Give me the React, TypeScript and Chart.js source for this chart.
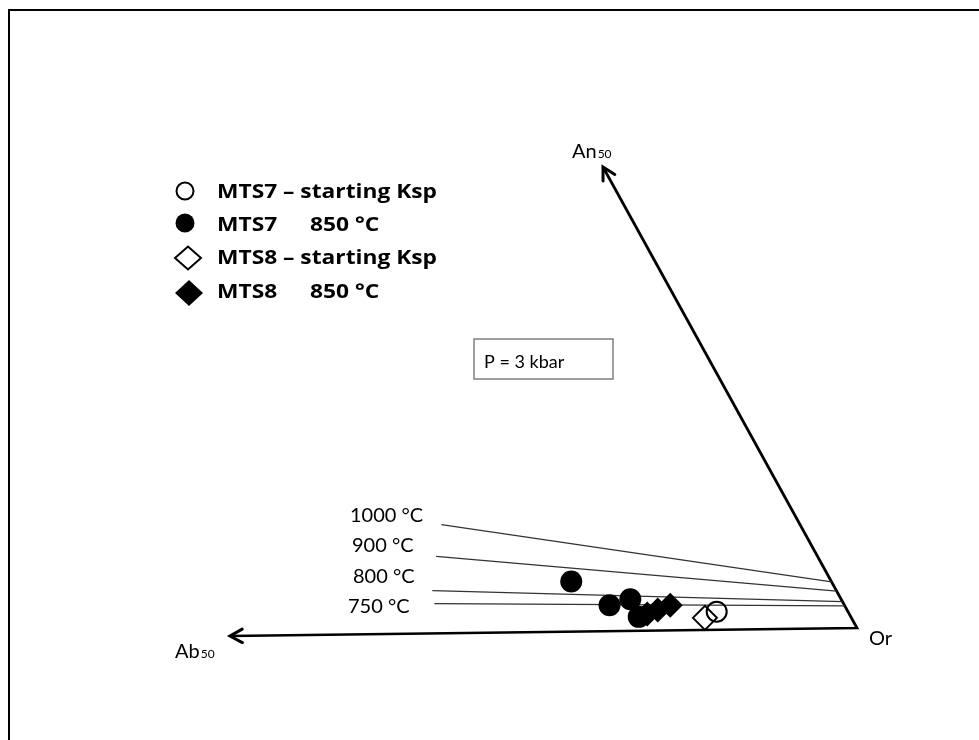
import { useEffect, useRef } from 'react';
import { Chart, registerables } from 'chart.js';

Chart.register(...registerables);

const W = 979;
const H = 740;
const FONT = 'Lato, "Open Sans", sans-serif';
const LEGEND_FONT = '"Open Sans", Lato, sans-serif';

// Compositions in mol%: Ab along the lower leg, An along the upright leg (each leg runs 0–50).
const LEG = 50;

const mts7StartAb = [10.4];
const mts7StartAn = [1.95];

const mts7RunAb = [20.6, 18.6, 16.7, 16.8];
const mts7RunAn = [5.4, 2.8, 3.4, 1.5];

const mts8StartAb = [11.6];
const mts8StartAn = [1.3];

const mts8RunAb = [16.0, 15.0, 13.8];
const mts8RunAn = [1.8, 2.2, 2.7];

// Isotherms: each runs from a point inside the field to the Or–An50 join.
const isothermLabels = ['1000 °C', '900 °C', '800 °C', '750 °C'];
const isothermAbStart = [28.4, 30.2, 32.0, 32.4];
const isothermAnStart = [11.7, 8.3, 4.6, 3.2];
const isothermAnEnd = [5.0, 4.0, 2.85, 2.4];

// Placement of the diagram corners in the plotting frame.
const OR_PT = { x: 857, y: 628 };
const AB_PT = { x: 230, y: 636 };
const AN_PT = { x: 603, y: 167 };

function project(ab: number, an: number) {
  const a = ab / LEG;
  const n = an / LEG;
  return {
    x: OR_PT.x + a * (AB_PT.x - OR_PT.x) + n * (AN_PT.x - OR_PT.x),
    y: OR_PT.y + a * (AB_PT.y - OR_PT.y) + n * (AN_PT.y - OR_PT.y),
  };
}

function zipProject(abs: number[], ans: number[]) {
  return abs.map((ab, i) => project(ab, ans[i]));
}

// Label layout (left x, baseline y) for the isotherm names.
const isothermLabelPos = [
  [350, 522],
  [352, 552],
  [353, 583],
  [348, 613],
];

const diagramDecor = {
  id: 'diagramDecor',
  afterDraw(chart: any) {
    const { ctx, scales } = chart;
    const px = (p: { x: number; y: number }) => ({
      x: scales.x.getPixelForValue(p.x),
      y: scales.y.getPixelForValue(p.y),
    });
    ctx.save();

    // outer frame
    ctx.strokeStyle = '#000';
    ctx.lineWidth = 2;
    ctx.beginPath();
    ctx.moveTo(9, H);
    ctx.lineTo(9, 10);
    ctx.lineTo(W, 10);
    ctx.stroke();

    // open arrowheads at the Ab50 and An50 ends
    const origin = px(project(0, 0));
    const tips = [px(project(LEG, 0)), px(project(0, LEG))];
    ctx.lineWidth = 3;
    ctx.lineCap = 'round';
    ctx.lineJoin = 'miter';
    for (const tip of tips) {
      const ang = Math.atan2(origin.y - tip.y, origin.x - tip.x);
      const len = 14;
      const spread = 0.5;
      ctx.beginPath();
      ctx.moveTo(tip.x + len * Math.cos(ang - spread), tip.y + len * Math.sin(ang - spread));
      ctx.lineTo(tip.x, tip.y);
      ctx.lineTo(tip.x + len * Math.cos(ang + spread), tip.y + len * Math.sin(ang + spread));
      ctx.stroke();
    }

    ctx.fillStyle = '#000';
    ctx.textBaseline = 'alphabetic';
    ctx.textAlign = 'left';

    // corner labels
    const corner = (main: string, sub: string, x: number, y: number) => {
      ctx.font = `20px ${FONT}`;
      ctx.fillText(main, x, y);
      const w = ctx.measureText(main).width;
      if (sub) {
        ctx.font = `12px ${FONT}`;
        ctx.fillText(sub, x + w + 1, y);
      }
    };
    corner('An', '50', 572, 158);
    corner('Ab', '50', 175, 658);
    corner('Or', '', 869, 645);

    // isotherm names
    ctx.font = `20px ${FONT}`;
    isothermLabels.forEach((t, i) => {
      ctx.fillText(t, isothermLabelPos[i][0], isothermLabelPos[i][1]);
    });

    // pressure box
    ctx.strokeStyle = '#7f7f7f';
    ctx.lineWidth = 1.5;
    ctx.fillStyle = '#fff';
    ctx.fillRect(474, 339, 139, 40);
    ctx.strokeRect(474, 339, 139, 40);
    ctx.fillStyle = '#000';
    ctx.font = `18px ${FONT}`;
    ctx.fillText('P = 3 kbar', 484, 368);

    // legend
    ctx.font = `bold 20px ${LEGEND_FONT}`;
    const sx = 220 / ctx.measureText('MTS7 – starting Ksp').width;
    const legendText = (t: string, x: number, y: number) => {
      ctx.save();
      ctx.translate(x, y);
      ctx.scale(sx, 1);
      ctx.fillText(t, 0, 0);
      ctx.restore();
    };
    ctx.strokeStyle = '#000';
    ctx.lineWidth = 2;
    // open circle
    ctx.beginPath();
    ctx.arc(185, 191, 8.5, 0, Math.PI * 2);
    ctx.stroke();
    legendText('MTS7 – starting Ksp', 217, 198);
    // filled circle
    ctx.beginPath();
    ctx.arc(185, 223, 9.5, 0, Math.PI * 2);
    ctx.fill();
    legendText('MTS7', 217, 231);
    legendText('850 °C', 310, 231);
    // open diamond
    ctx.beginPath();
    ctx.moveTo(175, 258);
    ctx.lineTo(188, 246.5);
    ctx.lineTo(201, 258);
    ctx.lineTo(188, 269.5);
    ctx.closePath();
    ctx.stroke();
    legendText('MTS8 – starting Ksp', 217, 264);
    // filled diamond
    ctx.beginPath();
    ctx.moveTo(175, 293);
    ctx.lineTo(189, 280);
    ctx.lineTo(203, 293);
    ctx.lineTo(189, 306);
    ctx.closePath();
    ctx.fill();
    legendText('MTS8', 217, 298);
    legendText('850 °C', 310, 298);

    ctx.restore();
  },
};

export default function App() {
  const canvasRef = useRef<HTMLCanvasElement | null>(null);

  useEffect(() => {
    const canvas = canvasRef.current;
    if (!canvas) return;

    const axisData = [project(LEG, 0), project(0, 0), project(0, LEG)];

    const isothermSets = isothermLabels.map((label, i) => ({
      label,
      data: [project(isothermAbStart[i], isothermAnStart[i]), project(0, isothermAnEnd[i])],
      showLine: true,
      borderColor: '#333333',
      borderWidth: 1.2,
      pointRadius: 0,
      order: 9,
    }));

    const chart = new Chart(canvas, {
      type: 'scatter',
      data: {
        datasets: [
          {
            label: 'axes',
            data: axisData,
            showLine: true,
            borderColor: '#000',
            borderWidth: 2.75,
            pointRadius: 0,
            order: 10,
          },
          ...isothermSets,
          {
            label: 'MTS7 850 °C',
            data: zipProject(mts7RunAb, mts7RunAn),
            pointStyle: 'circle',
            pointRadius: 11,
            backgroundColor: '#000',
            borderColor: '#000',
            borderWidth: 0,
            order: 4,
          },
          {
            label: 'MTS8 850 °C',
            data: zipProject(mts8RunAb, mts8RunAn),
            pointStyle: 'rectRot',
            pointRadius: 12.5,
            backgroundColor: '#000',
            borderColor: '#000',
            borderWidth: 0,
            order: 3,
          },
          {
            label: 'MTS8 – starting Ksp',
            data: zipProject(mts8StartAb, mts8StartAn),
            pointStyle: 'rectRot',
            pointRadius: 12,
            backgroundColor: 'rgba(0,0,0,0)',
            borderColor: '#000',
            borderWidth: 2,
            order: 2,
          },
          {
            label: 'MTS7 – starting Ksp',
            data: zipProject(mts7StartAb, mts7StartAn),
            pointStyle: 'circle',
            pointRadius: 10,
            backgroundColor: 'rgba(0,0,0,0)',
            borderColor: '#000',
            borderWidth: 2,
            order: 1,
          },
        ],
      },
      options: {
        animation: false,
        responsive: false,
        devicePixelRatio: 1,
        events: [],
        layout: { padding: 0, autoPadding: false },
        plugins: {
          legend: { display: false },
          tooltip: { enabled: false },
          title: { display: false },
        },
        scales: {
          x: { type: 'linear', min: 0, max: W, display: false },
          y: { type: 'linear', min: 0, max: H, reverse: true, display: false },
        },
      },
      plugins: [diagramDecor],
    });

    return () => chart.destroy();
  }, []);

  return (
    <div style={{ position: 'fixed', left: 0, top: 0, width: W, height: H, background: '#fff' }}>
      <canvas ref={canvasRef} width={W} height={H} style={{ display: 'block' }} />
    </div>
  );
}
